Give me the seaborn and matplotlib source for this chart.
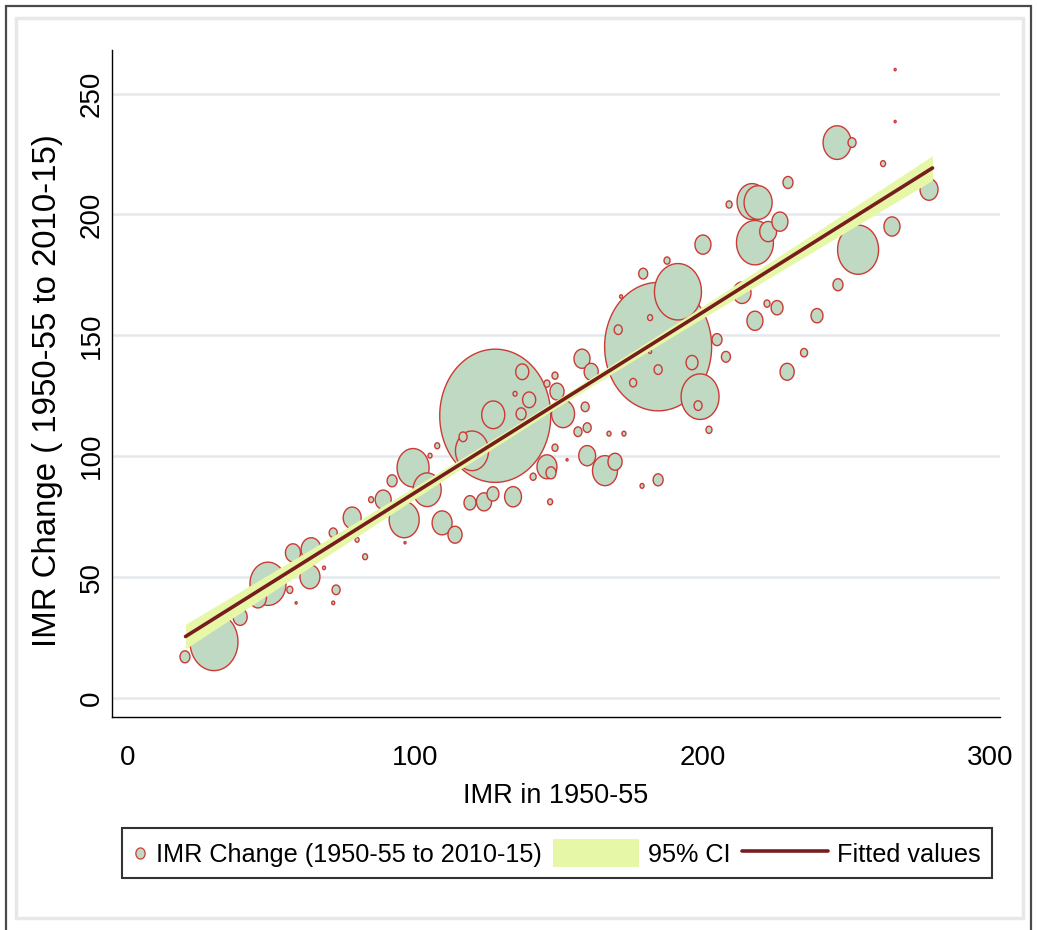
import numpy as np
import pandas as pd
import matplotlib
matplotlib.use("Agg")
import matplotlib.pyplot as plt
import seaborn as sns
from matplotlib import font_manager
from matplotlib.path import Path
from matplotlib.markers import MarkerStyle
from matplotlib.lines import Line2D
from matplotlib.patches import Patch, Rectangle
from matplotlib.legend_handler import HandlerBase

# ---------------- data ----------------
imr_1950 = [19.8, 29.9, 39.0, 48.7, 45.2, 57.4, 56.3, 63.3, 63.7, 72.4, 71.4, 58.5, 68.2,
            78.0, 79.7, 82.5, 71.4, 88.8, 84.6, 127.8, 127.1, 137.2, 139.6, 136.8, 134.7,
            119.7, 116.6, 107.6, 105.1, 99.2, 104.1, 96.1, 91.9, 109.3, 113.8, 119.0, 123.9,
            127.0, 134.0, 146.9, 141.0, 145.8, 147.2, 152.8, 148.6, 151.4, 149.3, 158.0,
            161.2, 159.1, 156.6, 159.8, 159.8, 148.6, 145.8, 167.4, 172.6, 166.0, 169.5,
            184.5, 178.9, 184.5, 191.4, 170.6, 181.7, 175.8, 184.5, 199.1, 198.4, 196.3,
            205.0, 208.1, 202.2, 187.6, 179.3, 171.6, 200.1, 218.2, 217.2, 219.3, 226.9,
            222.8, 209.2, 229.7, 246.8, 252.0, 267.0, 267.0, 262.8, 254.1, 265.9, 278.8,
            247.1, 213.7, 222.4, 225.9, 218.2, 239.8, 235.3, 229.4, 181.7, 96.4]
imr_change = [17.0, 23.2, 33.5, 47.2, 41.4, 60.0, 44.7, 50.1, 61.3, 44.7, 39.3, 39.3, 53.8,
              74.5, 65.4, 58.4, 68.3, 82.0, 82.0, 116.7, 117.1, 134.9, 123.3, 117.5, 125.8,
              102.2, 108.0, 104.3, 100.2, 95.2, 86.1, 73.7, 89.8, 72.4, 67.5, 80.7, 81.1,
              84.4, 83.2, 81.1, 91.5, 95.6, 93.1, 98.5, 103.5, 117.5, 126.7, 140.3,
              134.9, 120.4, 110.1, 111.8, 100.2, 133.3, 130.0, 109.3, 109.3, 94.0, 97.7,
              90.2, 87.7, 145.3, 168.0, 152.3, 157.3, 130.4, 135.8, 124.6, 120.9, 138.7,
              148.2, 141.1, 110.9, 180.9, 175.5, 166.0, 187.5, 188.3, 205.3, 204.9, 197.0,
              192.9, 204.1, 213.2, 229.7, 229.7, 259.9, 238.4, 221.0, 185.4, 195.0, 210.3,
              170.9, 167.6, 163.1, 161.4, 156.0, 158.1, 142.8, 134.9, 143.2, 64.2]
population = [10.5, 243, 21, 137, 30, 24, 3.8, 42, 42, 6.8, 0.95, 0.42, 0.95,
              34, 1.7, 2.6, 6.8, 27, 2.6, 1300, 56, 18, 18, 10.5, 1.7,
              115, 6.8, 2.6, 1.7, 108, 83, 95, 10.5, 42, 21, 15, 24,
              15, 30, 2.6, 3.8, 42, 10.5, 0.42, 3.8, 56, 21, 27,
              21, 6.8, 6.8, 6.8, 30, 3.8, 3.8, 1.7, 1.7, 66, 21,
              10.5, 1.7, 1208, 233, 6.8, 2.6, 5.2, 6.8, 152, 6.8, 15,
              10.5, 8.5, 3.8, 3.8, 8.5, 0.95, 27, 144, 95, 83, 27,
              30, 3.8, 10.5, 83, 6.8, 0.42, 0.42, 2.6, 177, 27, 34,
              10.5, 34, 3.8, 15, 27, 15, 5.2, 21, 0.95, 0.42]

# fitted values and 95% CI band
fit_x = [20, 40, 60, 80, 100, 120, 150, 180, 200, 220, 240, 260, 280]
fit_y = [25.4, 40.3, 55.2, 70.1, 85.0, 99.9, 122.3, 144.6, 159.5, 174.5, 189.4, 204.3, 219.2]
ci_low = [20.3, 35.9, 51.5, 67.0, 82.5, 97.9, 120.6, 142.6, 157.0, 171.4, 185.7, 199.9, 214.1]
ci_high = [30.5, 44.7, 58.9, 73.2, 87.5, 101.9, 124.0, 146.7, 162.0, 177.6, 193.1, 208.7, 224.3]

x_ticks = [0, 100, 200, 300]
y_ticks = [0, 50, 100, 150, 200, 250]
x_label = "IMR in 1950-55"
y_label = "IMR Change ( 1950-55 to 2010-15)"
legend_labels = ["IMR Change (1950-55 to 2010-15)", "95% CI", "Fitted values"]

# ---------------- style ----------------
FILL = "#bfd9c2"
EDGE = "#cc3a36"
BAND = "#e7f7a8"
LINE = "#771d1d"
GRID = "#e5e9ec"

sns.set_theme(style="white")
names = {f.name for f in font_manager.fontManager.ttflist}
if "Liberation Sans Narrow" in names:
    narrow, nscale = "Liberation Sans Narrow", 1.0
else:
    narrow, nscale = "Liberation Sans", 0.84
regular = "Liberation Sans" if "Liberation Sans" in names else "DejaVu Sans"
plt.rcParams["font.family"] = [narrow, "DejaVu Sans"]
for k in ["text.color", "axes.labelcolor", "xtick.color", "ytick.color"]:
    plt.rcParams[k] = "black"

W, H = 1037, 930
fig = plt.figure(figsize=(W / 100, H / 100), dpi=100)
fig.patch.set_facecolor("white")

# graph region frames
fig.add_artist(Rectangle((16 / W, 1 - 918 / H), (1023 - 16) / W, (918 - 18) / H,
                         transform=fig.transFigure, fill=False, ec="#e6e9ec", lw=2.5))
fig.add_artist(Rectangle((6 / W, -0.05), (1031 - 6) / W, 1.05 - 6 / H,
                         transform=fig.transFigure, fill=False, ec="#4a4a4a", lw=1.6))

ax = fig.add_axes([112 / W, 1 - 717 / H, (1000 - 112) / W, (717 - 50) / H])
ax.set_facecolor("white")

# ellipse marker (picture is vertically stretched)
th = np.linspace(0, 2 * np.pi, 120)
ell = Path(np.column_stack([np.cos(th) / 1.2, np.sin(th)]), closed=True)
ell_marker = MarkerStyle(ell)

df = pd.DataFrame({"imr": imr_1950, "chg": imr_change, "pop": population})
df = df.sort_values("pop", ascending=False)

SMAX = 9200.0  # marker area (pt^2) for the largest population
sns.scatterplot(data=df, x="imr", y="chg", size="pop", sizes=(0, SMAX), size_norm=(0, 1300),
                marker=ell_marker, color=FILL, edgecolor=EDGE, linewidth=1.0,
                legend=False, ax=ax, zorder=2)

ax.fill_between(fit_x, ci_low, ci_high, color=BAND, lw=0, zorder=3)
sns.lineplot(x=fit_x, y=fit_y, color=LINE, lw=2.6, ax=ax, zorder=4)

ax.set_xlim(-5.6, 303.5)
ax.set_ylim(-7.9, 268)
ax.set_xticks(x_ticks)
ax.set_xticklabels([str(t) for t in x_ticks], fontfamily=narrow, fontsize=23.8 * nscale)
ax.set_yticks(y_ticks)
ax.set_yticklabels([str(t) for t in y_ticks], rotation=90, va="center",
                   fontfamily=regular, fontsize=20)
ax.yaxis.grid(True, color=GRID, lw=1.8, zorder=0)
ax.xaxis.grid(False)
ax.set_axisbelow(True)

for s in ["top", "right"]:
    ax.spines[s].set_visible(False)
for s in ["left", "bottom"]:
    ax.spines[s].set_color("black")
    ax.spines[s].set_linewidth(1.0)
ax.tick_params(axis="x", direction="out", length=9, width=1.1, color="black", pad=11,
               labelcolor="black")
ax.tick_params(axis="y", direction="out", length=8, width=1.1, color="black", pad=-3,
               labelcolor="black")

ax.set_xlabel(x_label, fontfamily=narrow, fontsize=23.2 * nscale, color="black")
ax.set_ylabel(y_label, fontfamily=regular, fontsize=23.8, color="black")
ax.xaxis.set_label_coords(0.5, -0.099)
ax.yaxis.set_label_coords(-0.055, 0.489)


class SmallMarkerHandler(HandlerBase):
    def create_artists(self, legend, orig_handle, xdescent, ydescent, width, height,
                       fontsize, trans):
        m = Line2D([5 - xdescent], [height / 2 - ydescent], marker=ell_marker,
                   markersize=8, markerfacecolor=FILL, markeredgecolor=EDGE,
                   markeredgewidth=0.9, linestyle="none")
        m.set_transform(trans)
        return [m]


h_pts = Line2D([], [], marker="o")
h_ci = Patch(facecolor=BAND, edgecolor="none")
h_fit = Line2D([], [], color=LINE, lw=2.6)
leg = ax.legend([h_pts, h_ci, h_fit], legend_labels, ncol=3, loc="upper left",
                bbox_to_anchor=(122 / W, 1 - 828 / H), bbox_transform=fig.transFigure,
                frameon=True, fancybox=False, shadow=False, edgecolor="black",
                handlelength=3.4, handleheight=1.3, handletextpad=0.35,
                columnspacing=0.45, borderpad=0.45, borderaxespad=0,
                prop={"family": narrow, "size": 21.7 * nscale},
                handler_map={h_pts: SmallMarkerHandler()})
leg.get_frame().set_linewidth(1.5)
leg.get_frame().set_facecolor("white")
for t in leg.get_texts():
    t.set_color("black")
try:
    col0 = leg._legend_handle_box.get_children()[0]
    row0 = col0.get_children()[0]
    row0.get_children()[0].width = 10
except Exception:
    pass

fig.savefig("out.png", dpi=100, facecolor="white")
